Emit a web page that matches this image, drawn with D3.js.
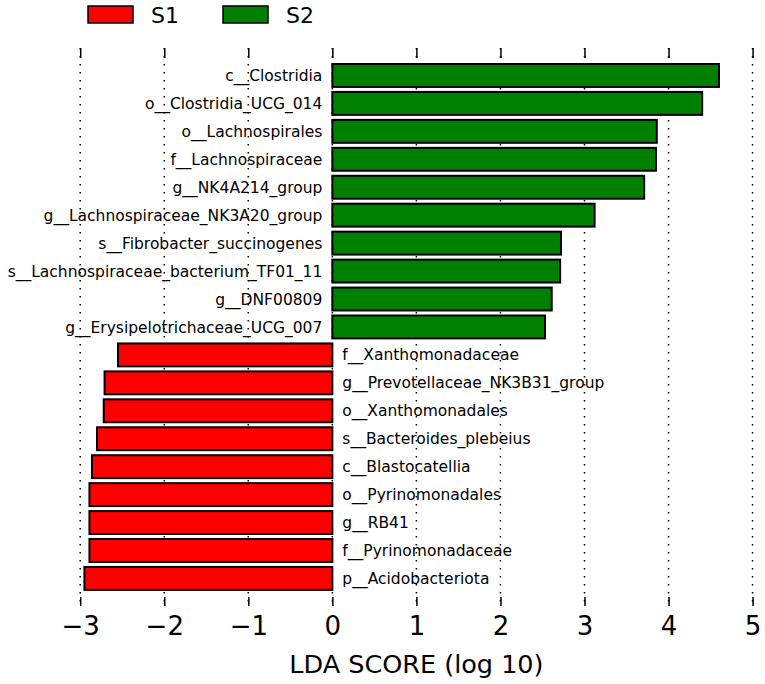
<!DOCTYPE html>
<html>
<head>
<meta charset="utf-8">
<script src="https://cdn.jsdelivr.net/npm/d3@7"></script>
<style>
  body { margin: 0; background: #fff; }
  svg { font-family: "DejaVu Sans", sans-serif; }
</style>
</head>
<body>
<svg width="765" height="684"></svg>
<script>
// taxa, top to bottom
const taxa = [
  "c__Clostridia", "o__Clostridia_UCG_014", "o__Lachnospirales", "f__Lachnospiraceae",
  "g__NK4A214_group", "g__Lachnospiraceae_NK3A20_group", "s__Fibrobacter_succinogenes",
  "s__Lachnospiraceae_bacterium_TF01_11", "g__DNF00809", "g__Erysipelotrichaceae_UCG_007",
  "f__Xanthomonadaceae", "g__Prevotellaceae_NK3B31_group", "o__Xanthomonadales",
  "s__Bacteroides_plebeius", "c__Blastocatellia", "o__Pyrinomonadales", "g__RB41",
  "f__Pyrinomonadaceae", "p__Acidobacteriota"
];
// LDA scores (S1 drawn negative)
const ldaScores = [
  4.60, 4.40, 3.86, 3.85, 3.71, 3.12, 2.72, 2.71, 2.61, 2.53,
  -2.55, -2.71, -2.72, -2.80, -2.86, -2.89, -2.89, -2.89, -2.95
];
const groups = ["S1", "S2"];
const groupColors = ["#ff0000", "#008000"];
const xTicks = [-3, -2, -1, 0, 1, 2, 3, 4, 5];

const svg = d3.select("svg");
const plotTop = 48, plotBottom = 606;

const x = d3.scaleLinear().domain([-3, 5]).range([80.2, 752.6]);
const y = d3.scaleBand().domain(taxa).range([61.5, 592.4])
  .paddingInner(0.18).paddingOuter(0.09);

// dotted grid
svg.append("g").selectAll("line")
  .data(xTicks)
  .enter().append("line")
  .attr("x1", d => x(d)).attr("x2", d => x(d))
  .attr("y1", plotTop).attr("y2", plotBottom)
  .attr("stroke", "#000")
  .attr("stroke-width", 1.5)
  .attr("stroke-dasharray", "1.5,6.5");

// bars
svg.append("g").selectAll("rect")
  .data(ldaScores)
  .enter().append("rect")
  .attr("x", d => x(Math.min(0, d)))
  .attr("y", (d, i) => y(taxa[i]))
  .attr("width", d => Math.abs(x(d) - x(0)))
  .attr("height", y.bandwidth())
  .attr("fill", d => d > 0 ? groupColors[1] : groupColors[0])
  .attr("stroke", "#000")
  .attr("stroke-width", 2);

// labels on the opposite side of zero
svg.append("g").selectAll("text")
  .data(ldaScores)
  .enter().append("text")
  .text((d, i) => taxa[i])
  .attr("x", d => d > 0 ? x(0) - 10 : x(0) + 10)
  .attr("y", (d, i) => y(taxa[i]) + y.bandwidth() / 2)
  .attr("dy", "0.36em")
  .attr("text-anchor", d => d > 0 ? "end" : "start")
  .attr("font-size", "15.5px")
  .attr("fill", "#000");

// axes: inward ticks top and bottom, no spines
const axB = svg.append("g")
  .attr("transform", `translate(0,${plotBottom})`)
  .call(d3.axisBottom(x).tickValues(xTicks).tickSizeInner(-9).tickSizeOuter(0).tickPadding(11));
axB.select(".domain").remove();
axB.selectAll(".tick line").attr("stroke-width", 1.5);
axB.selectAll(".tick text").attr("font-size", "26px").attr("font-family", "DejaVu Sans");

const axT = svg.append("g")
  .attr("transform", `translate(0,${plotTop})`)
  .call(d3.axisTop(x).tickValues(xTicks).tickSizeInner(-10).tickSizeOuter(0).tickFormat(""));
axT.select(".domain").remove();
axT.selectAll(".tick line").attr("stroke-width", 1.5);

svg.append("text")
  .text("LDA SCORE (log 10)")
  .attr("x", (x.range()[0] + x.range()[1]) / 2)
  .attr("y", 673)
  .attr("text-anchor", "middle")
  .attr("font-size", "25.5px");

// legend
const legend = svg.append("g").selectAll("g")
  .data(groups)
  .enter().append("g")
  .attr("transform", (d, i) => `translate(${88 + i * 135},6)`);
legend.append("rect")
  .attr("width", 45).attr("height", 17)
  .attr("fill", (d, i) => groupColors[i])
  .attr("stroke", "#000").attr("stroke-width", 1.5);
legend.append("text")
  .text(d => d)
  .attr("x", 63).attr("y", 17)
  .attr("font-size", "22px");
</script>
</body>
</html>
